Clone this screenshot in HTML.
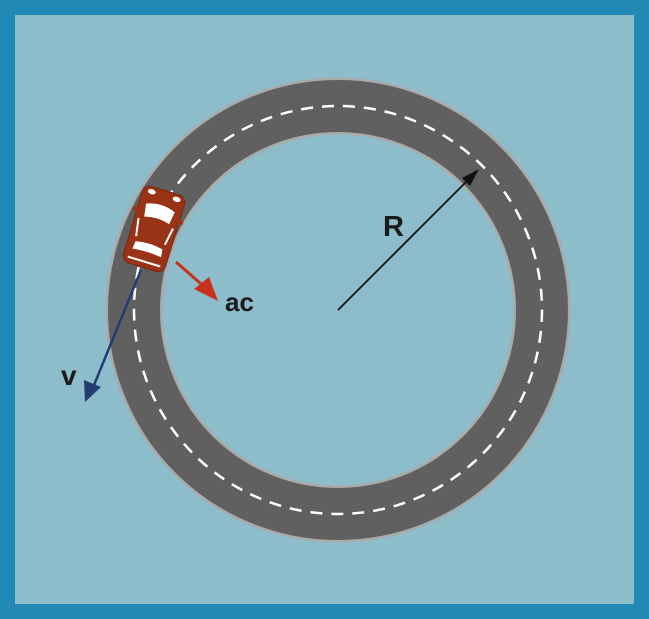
<!DOCTYPE html>
<html><head><style>body{margin:0}svg{display:block}</style></head><body>
<svg width="649" height="619" viewBox="0 0 649 619" xmlns="http://www.w3.org/2000/svg">
<rect x="0" y="0" width="649" height="619" fill="#2189b6"/>
<rect x="15" y="15" width="619" height="589" fill="#8dbccb"/>
<circle cx="338" cy="310" r="204" fill="none" stroke="#aaa" stroke-width="57"/>
<circle cx="338" cy="310" r="204" fill="none" stroke="#606060" stroke-width="52"/>
<circle cx="338" cy="310" r="204" fill="none" stroke="#fff" stroke-width="2.5" stroke-dasharray="12 9"/>
<g transform="translate(154,229) rotate(17)">
<rect x="-22" y="-40" width="44" height="80" rx="8" fill="#983316" stroke="#7a2810" stroke-width="1"/>
<rect x="-26" y="-16" width="6" height="4" fill="#983316"/>
<rect x="20" y="-16" width="6" height="4" fill="#983316"/>
<path d="M-15 -22 Q0 -28 15 -22 L13 -9 Q0 -13 -13 -9Z" fill="#fff"/>
<path d="M-14 17 Q0 14 14 17 L15 25 Q0 23 -15 25Z" fill="#fff"/>
<path d="M-18 -6 L-15 12" stroke="#fff" stroke-width="2"/>
<path d="M18 -6 L15 12" stroke="#fff" stroke-width="2"/>
<ellipse cx="-13" cy="-35" rx="4" ry="2.5" fill="#fff"/>
<ellipse cx="13" cy="-35" rx="4" ry="2.5" fill="#fff"/>
<path d="M-17 34 L17 34" stroke="#fff" stroke-width="2"/>
</g>
<line x1="141" y1="270" x2="92" y2="390" stroke="#233d73" stroke-width="2.5"/>
<polygon points="85,402 84,380 101,387" fill="#233d73"/>
<line x1="176" y1="262" x2="208" y2="290" stroke="#c8321c" stroke-width="3"/>
<polygon points="218,301 194,289 209,277" fill="#c8321c"/>
<line x1="338" y1="310" x2="470" y2="178" stroke="#111" stroke-width="1.8"/>
<polygon points="479,169 462,178 470,186" fill="#111"/>
<text x="383" y="236" font-family="Liberation Sans, sans-serif" font-weight="bold" font-size="29" fill="#1a1a1a">R</text>
<text x="225" y="311" font-family="Liberation Sans, sans-serif" font-weight="bold" font-size="26" fill="#1a1a1a">ac</text>
<text x="61" y="385" font-family="Liberation Sans, sans-serif" font-weight="bold" font-size="28" fill="#1a1a1a">v</text>
</svg>
</body></html>
